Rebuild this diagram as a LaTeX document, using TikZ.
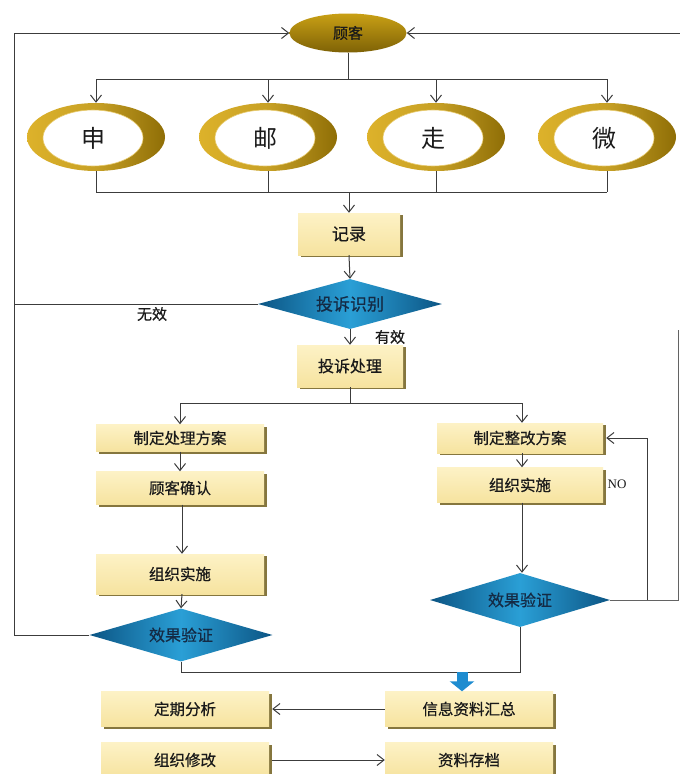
\documentclass[tikz,border=0pt]{standalone}
\usepackage{fontspec}
\newfontfamily\cjk[FakeBold=0.6]{Noto Sans CJK SC}
\newfontfamily\cjkr{Noto Sans CJK SC}
\newfontfamily\serifnum{Liberation Serif}
\usetikzlibrary{shapes.geometric,arrows.meta,shadows}
\definecolor{linec}{HTML}{3C3C3C}
\definecolor{boxtop}{HTML}{FDF2C6}
\definecolor{boxbot}{HTML}{F6E39F}
\definecolor{boxshadow}{HTML}{85763E}
\definecolor{dblue}{HTML}{0C5584}
\definecolor{lblue}{HTML}{2A9FD6}
\definecolor{goldl}{HTML}{DDB22A}
\definecolor{goldd}{HTML}{8F6E06}
\definecolor{gktop}{HTML}{C9A015}
\definecolor{gkbot}{HTML}{7E6206}
\definecolor{txt}{HTML}{1A1A1A}
\definecolor{dtxt}{HTML}{142A44}
\definecolor{bigblue}{HTML}{1E8CD0}
\tikzset{
  line/.style={draw=linec, line width=1pt},
  arr/.style={line, -{Straight Barb[length=7pt,width=11pt]}},
  boxnode/.style={rectangle, top color=boxtop, bottom color=boxbot, minimum width=168pt,
    minimum height=34pt, inner sep=0pt, text=txt, font=\cjk\fontsize{15.5}{15.5}\selectfont,
    drop shadow={shadow xshift=3pt, shadow yshift=-2pt, fill=boxshadow, opacity=1}},
  dia/.style={diamond, aspect=3.6, minimum width=183pt, minimum height=53pt, inner sep=0pt,
    left color=dblue, right color=dblue, middle color=lblue, text=dtxt,
    font=\cjk\fontsize{16}{16}\selectfont},
  ring/.style={ellipse, minimum width=138pt, minimum height=68pt, inner sep=0pt,
    left color=goldl, right color=goldd, middle color=goldl!90!black},
  ringin/.style={ellipse, minimum width=100pt, minimum height=56pt, inner sep=0pt,
    fill=white, draw=goldl!70!white, line width=0.6pt, text=txt, font=\cjkr\fontsize{24}{24}\selectfont},
  lab/.style={text=txt, font=\cjk\fontsize{15}{15}\selectfont, inner sep=0pt}
}
\begin{document}
\begin{tikzpicture}[x=1pt,y=-1pt]
\useasboundingbox[fill=white] (0,0) rectangle (680,774);
% customer
\node[ellipse, minimum width=117pt, minimum height=39pt, inner sep=0pt, top color=gktop, bottom color=gkbot,
  text=txt, font=\cjk\fontsize{15}{15}\selectfont] (gk) at (348,33) {顾客};
% rings
\node[ring] (e1) at (96,137) {};
\node[ring] (e2) at (268,137) {};
\node[ring] (e3) at (436,137) {};
\node[ring] (e4) at (607,137) {};
\node[ringin] (w1) at (93,138) {申};
\node[ringin] (w2) at (265,138) {邮};
\node[ringin] (w3) at (433,138) {走};
\node[ringin] (w4) at (604,138) {微};
% main flow
\node[boxnode, minimum width=102pt, minimum height=42pt, font=\cjk\fontsize{17}{17}\selectfont] (jl) at (349,234) {记录};
\node[dia, minimum width=184pt, minimum height=50pt, font=\cjk\fontsize{17}{17}\selectfont] (sb) at (350,304) {投诉识别};
\node[boxnode, minimum width=106pt, minimum height=42pt, font=\cjk\fontsize{16}{16}\selectfont] (cl) at (350,366) {投诉处理};
% left column
\node[boxnode, minimum height=27pt] (zd) at (180,438) {制定处理方案};
\node[boxnode, minimum height=33pt] (qr) at (180,488) {顾客确认};
\node[boxnode, minimum height=40pt] (ss1) at (180,574) {组织实施};
\node[dia] (xg1) at (181,635) {效果验证};
% right column
\node[boxnode, minimum width=166pt, minimum height=30pt] (zg) at (520,438) {制定整改方案};
\node[boxnode, minimum width=166pt, minimum height=35pt] (ss2) at (520,485) {组织实施};
\node[dia, minimum width=180pt, minimum height=54pt] (xg2) at (520,600) {效果验证};
% bottom
\node[boxnode, minimum height=35pt] (xx) at (469,709) {信息资料汇总};
\node[boxnode, minimum height=35pt] (dq) at (185,709) {定期分析};
\node[boxnode, minimum height=35pt] (zx) at (185,760) {组织修改};
\node[boxnode, minimum height=35pt] (zc) at (469,760) {资料存档};
% labels
\node[lab] (wx) at (152,314) {无效};
\node[lab] (yx) at (390,337) {有效};
\node[text=txt, font=\serifnum\fontsize{13}{13}\selectfont, inner sep=0pt] (no) at (617,484) {NO};
% coordinates
\coordinate (t1) at (96,79);
\coordinate (t4) at (607,79);
\coordinate (b1) at (96,192);
\coordinate (b4) at (607,192);
\coordinate (lt) at (14,33);
\coordinate (rt) at (680,33);
\coordinate (wl) at (14,304);
\coordinate (s1) at (180,403);
\coordinate (s2) at (522,403);
\coordinate (m1) at (181,672);
\coordinate (m2) at (520,672);
\coordinate (rr) at (678,600);
\coordinate (rrt) at (678,330);
\coordinate (rl) at (647,600);
\coordinate (bj) at (462,672);
% top distribution
\draw[line] (gk.south) -- (gk.south |- t1);
\draw[line] (t1) -- (t4);
\foreach \e in {e1,e2,e3,e4} \draw[arr] (\e.north |- t1) -- (\e.north);
% collection
\foreach \e in {e1,e2,e3,e4} \draw[line] (\e.south) -- (\e.south |- b1);
\draw[line] (b1) -- (b4);
\draw[arr] (jl.north |- b1) -- (jl.north);
\draw[arr] (jl.south) -- (sb.north);
\draw[arr] (sb.south) -- (cl.north);
\draw[line] (sb.west) -- (sb.west -| wl);
% loops to customer
\draw[arr] (xg1.west) -- (xg1.west -| lt) -- (lt) -- (gk.west);
\draw[arr] (rt) -- (gk.east);
% split
\draw[line] (cl.south) -- (cl.south |- s1);
\draw[line] (s1) -- (s2);
\draw[arr] (s1) -- (zd.north -| s1);
\draw[arr] (s2) -- (zg.north -| s2);
\draw[arr] (zd.south -| s1) -- (qr.north -| s1);
\draw[arr] ([xshift=2pt]qr.south) -- ([xshift=2pt]ss1.north);
\draw[arr] ([xshift=2pt]ss1.south) -- (xg1.north);
\draw[arr] (zg.south -| s2) -- (ss2.north -| s2);
\draw[arr] (ss2.south -| s2) -- (xg2.north -| s2);
% right loop
\draw[line, line width=0.8pt, draw=linec!80] (xg2.east) -- (rr) -- (rrt);
\draw[arr] (rl) |- ([xshift=3pt]zg.east);
% merge
\draw[line] (xg1.south) -- (m1) -- (m2) -- (xg2.south);
\draw[draw=bigblue, line width=11pt, -{Triangle[length=10pt,width=24pt]}] (bj) -- (xx.north -| bj);
\draw[arr] (xx.west) -- ([xshift=3pt]dq.east);
\draw[arr] ([xshift=3pt]zx.east) -- (zc.west);
\end{tikzpicture}
\end{document}
